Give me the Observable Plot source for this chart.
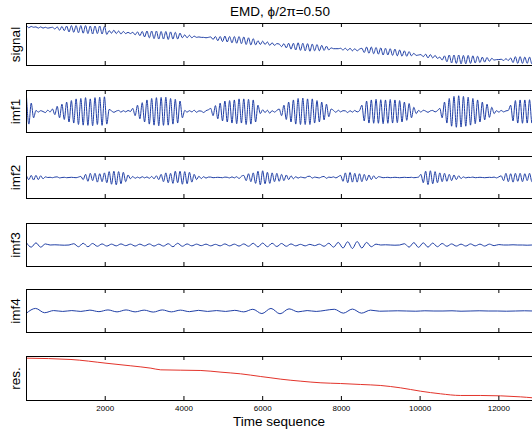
<!DOCTYPE html>
<html><head><meta charset="utf-8">
<script src="https://cdn.jsdelivr.net/npm/d3@7"></script>
<script src="https://cdn.jsdelivr.net/npm/@observablehq/plot@0.6"></script>
<style>
body{margin:0;background:#fff;}
#c{position:relative;width:532px;height:434px;overflow:hidden;font-family:"Liberation Sans",Arial,sans-serif;color:#000;background:#fff;}
#c svg{position:absolute;left:0;}
.t{position:absolute;font-size:13.5px;line-height:1;text-align:center;white-space:nowrap;}
</style></head><body><div id="c"></div>
<script>
// ---- text ----
const title = "EMD, \u03D5/2\u03C0=0.50";
const xLabel = "Time sequence";
const panelLabels = ["signal", "imf1", "imf2", "imf3", "imf4", "res."];
const xTicks = [2000, 4000, 6000, 8000, 10000, 12000];
const xMax = 12855;

// ---- series (sample step per series) ----
const stepFine = 60;
const signal = [
.95,.90,.93,.91,
.92,.89,.92,.89,.91,.89,.90,
.91,.87,.92,.84,.93,.83,.94,.80,.95,.79,.95,.78,.95,.77,.95,.76,.94,.75,.94,.76,.94,.75,.93,.74,
.83,.77,.84,.76,.82,.75,.81,.76,.79,.76,
.79,.73,.80,.71,.81,.68,.82,.66,.82,.64,.82,.63,.81,.63,.81,.62,.80,.63,.79,.63,.77,.66,
.73,.66,.72,.66,.70,.67,.68,.67,.67,.66,.67,
.68,.62,.69,.59,.69,.57,.70,.56,.69,.54,.69,.53,.69,.52,.68,.50,.66,.49,.64,.49,.59,
.50,.58,.50,.56,.48,.54,.48,.52,
.51,.45,.52,.42,.53,.39,.53,.37,.54,.36,.53,.35,.52,.34,.51,.35,.50,.35,.48,.36,.46,.37,.42,
.40,.40,.40,.41,.37,.41,.36,.41,.35,.40,.35,.39,
.41,.31,.44,.29,.44,.28,.43,.27,.42,.25,.41,.25,.40,.24,.39,.23,.37,.22,.35,.22,.33,.23,.29,.24,
.25,.26,.21,.27,.18,.26,.18,.24,.17,
.20,.13,.23,.09,.25,.06,.25,.05,.25,.04,.24,.04,.24,.05,.23,.06,.22,.07,.20,.08,.19,.10,.17,.13,
.14,.14,.15,.12,.16,.12,
.18,.07,.21,.05,.21,.05,.20,.05,.20,.04,.19
];
const imf1 = [
.7,-.6,.4,-.3,
.05,-.03,.04,0,-.05,.06,-.02,
.12,-.15,.25,-.3,.35,-.38,.45,-.5,.52,-.55,.6,-.62,.62,-.65,.66,-.66,.6,-.68,.66,-.62,.68,-.66,.7,-.6,
.1,.03,-.04,.02,.05,-.03,.04,-.02,.05,0,
.15,-.2,.3,-.35,.42,-.5,.55,-.6,.62,-.65,.66,-.68,.67,-.66,.68,-.65,.62,-.6,.58,-.55,.5,-.3,
.05,-.03,.04,-.02,.06,-.04,.03,.02,-.05,.04,.08,
.15,-.2,.28,-.35,.4,-.45,.5,-.5,.52,-.55,.55,-.58,.6,-.55,.6,-.62,.58,-.6,.55,-.5,.3,
-.1,.08,-.05,.06,-.08,.04,-.03,.05,
.12,-.2,.3,-.38,.45,-.5,.55,-.6,.62,-.62,.64,-.62,.6,-.62,.6,-.55,.52,-.5,.45,-.4,.35,-.25,.12,
.05,-.04,.06,-.02,.04,.03,-.05,.04,-.03,.05,-.02,.04,
.3,-.45,.5,-.55,.55,-.56,.58,-.56,.56,-.58,.55,-.56,.57,-.55,.55,-.53,.52,-.5,.45,-.42,.38,-.3,.2,-.1,
.05,-.03,.06,.02,-.04,.03,.05,-.02,.04,
.15,-.3,.45,-.55,.62,-.7,.72,-.75,.75,-.74,.72,-.7,.68,-.65,.62,-.58,.55,-.5,.45,-.4,.35,-.28,.2,-.1,
.04,-.03,.05,-.02,.03,.05,
.3,-.45,.52,-.55,.55,-.56,.55,-.55,.56,-.55,.55
];
const imf2 = [
.08,-.1,.1,-.12,.1,-.1,.08,-.06,.03,
0,.01,-.01,.02,.03,-.02,0,.01,-.01,0,.01,0,-.01,.02,
.05,-.1,.15,-.18,.2,-.15,.2,-.22,.18,-.2,.22,-.25,.28,
-.32,.3,-.35,.28,-.3,.25,-.2,.12,
-.06,.05,-.04,.02,-.03,.04,-.02,.03,-.04,.05,-.06,.08,-.1,
.15,-.2,.22,-.25,.2,-.28,.3,-.25,.3,-.32,.28,-.3,.25,-.22,.15,-.1,
.06,-.05,.04,-.03,.02,.02,-.01,0,.01,0,-.01,.02,.01,-.02,.03,-.02,.04,-.05,.06,
.1,-.15,.18,-.2,.22,-.28,.3,-.35,.32,-.3,.25,-.28,.22,-.2,.2,-.18,.15,-.15,.12,-.1,.08,-.06,
.04,-.03,.02,0,-.02,.05,.06,-.03,.02,0,-.02,.03,.05,-.04,.02,0,.03,-.02,.04,
.1,-.18,.22,-.25,.24,-.22,.2,-.22,.18,-.2,.15,-.15,.12,-.1,.08,-.06,.04,
.02,-.01,0,.01,-.01,0,.01,0,-.01,0,.01,0,0,.01,-.01,0,.02,
.15,-.25,.3,-.34,.32,-.3,.28,-.25,.22,-.2,.2,-.18,.15,-.15,.12,-.1,.08,-.05,
.03,-.02,.01,0,.02,-.01,0,.01,0,-.01,0,.01,0,.02,-.02,.03,
.08,-.15,.2,-.2,.18,-.22,.2,-.18,.2,-.2,.18,-.15,.2,-.2,.18
];
const stepImf3 = 120;
const imf3 = [
.1,-.1,.1,-.1,.05,
0,.01,0,-.01,0,
.06,-.08,.08,-.08,.07,-.06,
.05,-.05,.04,-.04,.05,-.03,.04,-.05,.04,-.04,.05,-.05,.04,-.05,.06,
-.08,.08,-.06,
.05,-.04,.04,-.03,.04,-.04,.03,-.04,.05,-.04,.04,-.05,.05,-.06,
.08,-.09,.09,-.08,.08,-.07,.07,-.06,.05,
-.04,.03,-.04,.03,-.03,.04,
-.06,.08,-.1,.12,-.14,.15,-.16,.16,-.14,.12,-.08,.04,
0,.01,0,-.01,0,
.06,-.1,.11,-.11,.1,-.1,.09,-.08,.07,-.06,
.05,-.05,.04,-.05,.05,-.04,.04,-.05,.04,-.03,.02,
0,0,.01,0,0,-.01,0,0
];
const stepImf4 = 230;
const imf4 = [
-.1,.12,-.08,.02,-.02,.02,-.02,.04,-.03,.05,-.04,.05,-.04,.04,-.05,.05,-.04,.04,-.03,.03,
-.02,.02,-.02,.03,-.04,.08,-.12,.12,-.13,.1,
-.04,.02,-.02,.03,
.08,-.1,.09,-.1,.04,
-.01,
0,.01,0,-.01,.01,0,0,.01,-.01,0,.01,0,0,-.01,0,.01,0,0
];
const resX = [0,1130,2020,2650,3160,3410,3920,4430,4940,5440,5950,6210,6460,6970,7480,7980,8490,9000,9500,10010,10520,11030,11540,12040,12550,12860];
const resY = [.962,.932,.848,.788,.735,.697,.689,.682,.644,.606,.545,.515,.485,.439,.402,.386,.364,.341,.288,.212,.152,.114,.114,.106,.083,.061];

// ---- tables ----
const byStep = (arr, step) => arr.map((v, i) => ({x: i * step, y: v}));
const series = [
  {data: byStep(signal, stepFine), domain: [0, 1], color: "#2140a6"},
  {data: byStep(imf1, stepFine), domain: [-1, 1], color: "#2140a6"},
  {data: byStep(imf2, stepFine), domain: [-1, 1], color: "#2140a6"},
  {data: byStep(imf3, stepImf3), domain: [-1, 1], color: "#2140a6"},
  {data: byStep(imf4, stepImf4), domain: [-1, 1], color: "#2140a6"},
  {data: resX.map((x, i) => ({x, y: resY[i]})), domain: [0, 1], color: "#e3342b"}
];

// ---- layout ----
const tops = [23, 90, 156, 223, 289, 356];
const heights = [42, 42, 42, 43, 43, 44];
const root = document.getElementById("c");

series.forEach((s, k) => {
  const last = k === series.length - 1;
  const H = heights[k];
  const mt = 2, mb = last ? 18 : 2;
  const marks = [
    Plot.lineY(s.data, {x: "x", y: "y", stroke: s.color, strokeWidth: 1, curve: "monotone-x", clip: true}),
    Plot.ruleY(s.domain, {stroke: "#000", strokeWidth: 1}),
    Plot.ruleX([0], {stroke: "#000", strokeWidth: 1}),
    Plot.tickX(xTicks, {x: d => d, stroke: "#000", insetBottom: H - 4}),
    Plot.tickX(xTicks, {x: d => d, stroke: "#000", insetTop: H - 4}),
    Plot.text([panelLabels[k]], {text: d => d, frameAnchor: "left", dx: -11, rotate: -90, textAnchor: "middle", fontSize: 13.5, fill: "#000"})
  ];
  if (last) marks.push(Plot.axisX(xTicks, {tickSize: 0, tickPadding: 5, fontSize: 8, label: null, stroke: "none", fill: "#000", tickFormat: d => String(d)}));
  const svg = Plot.plot({
    width: 532, height: H + mt + mb,
    marginTop: mt, marginBottom: mb, marginLeft: 26, marginRight: 0,
    x: {domain: [0, xMax], axis: null},
    y: {domain: s.domain, axis: null},
    style: {background: "transparent", fontFamily: "'Liberation Sans', Arial, sans-serif", color: "#000"},
    marks
  });
  svg.style.top = (tops[k] - mt) + "px";
  root.appendChild(svg);
});

const t = document.createElement("div");
t.className = "t"; t.textContent = title;
t.style.left = "180px"; t.style.width = "200px"; t.style.top = "5px";
root.appendChild(t);
const xl = document.createElement("div");
xl.className = "t"; xl.textContent = xLabel;
xl.style.left = "179px"; xl.style.width = "200px"; xl.style.top = "415px";
root.appendChild(xl);
</script></body></html>
